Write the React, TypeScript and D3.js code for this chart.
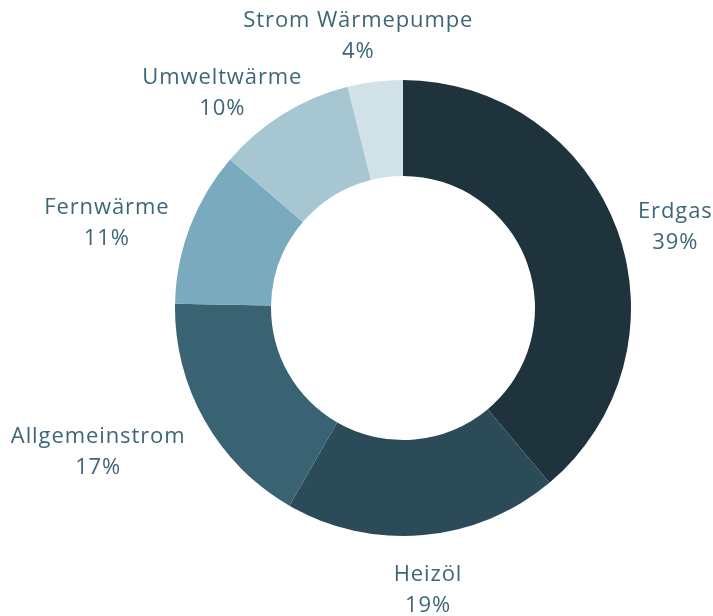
import React from 'react';
import * as d3 from 'd3';

const categories = ['Erdgas', 'Heizöl', 'Allgemeinstrom', 'Fernwärme', 'Umweltwärme', 'Strom Wärmepumpe'];
const shares = [38.9, 19.4, 17.0, 11.0, 9.8, 3.9];
const percentLabels = ['39%', '19%', '17%', '11%', '10%', '4%'];
const colors = ['#1f333d', '#2c4b59', '#396373', '#79aabd', '#a6c6d2', '#d0e1e8'];

const width = 713;
const height = 616;
const fontSize = 22;
const letterSpacing = 0.9;
const lineHeight = 31;
const fontFamily = '"Open Sans", "Noto Sans", sans-serif';
const textColor = '#3d6677';

function measure(text: string) {
    const ctx = document.createElement('canvas').getContext('2d');
    if (!ctx) return text.length * fontSize * 0.6;
    ctx.font = `${fontSize}px ${fontFamily}`;
    return ctx.measureText(text).width + text.length * letterSpacing;
}

export default function App() {
    const cx = 403;
    const cy = 308;
    const outer = 228;
    const inner = 132;
    const labelR = 250;

    const pie = d3.pie<number>().sort(null).value((d) => d);
    const arcs = pie(shares);
    const arc = d3.arc<d3.PieArcDatum<number>>().innerRadius(inner).outerRadius(outer);

    // place label boxes just outside the ring
    const boxes = arcs.map((a, i) => {
        const mid = (a.startAngle + a.endAngle) / 2;
        const s = Math.sin(mid), c = Math.cos(mid);
        const w = Math.max(measure(categories[i]), measure(percentLabels[i]));
        const h = lineHeight * 2 - 5;
        const m = Math.max(Math.abs(s), Math.abs(c));
        const px = labelR * s, py = -labelR * c;
        // side labels in the upper half sit centred on the anchor
        const dy = (Math.abs(c) >= Math.abs(s) || c < 0) ? -(c * h / 2) / m : 0;
        return { i, w, h, x: px + (s * w / 2) / m, y: py + dy };
    });

    // simple overlap removal: push lower boxes down, top to bottom
    const sorted = [...boxes].sort((a, b) => a.y - b.y);
    for (let k = 0; k < sorted.length; k++) {
        for (let j = 0; j < k; j++) {
            const a = sorted[j], b = sorted[k];
            const xOverlap = Math.abs(a.x - b.x) < (a.w + b.w) / 2;
            const yOverlap = b.y - a.y < (a.h + b.h) / 2;
            if (xOverlap && yOverlap) b.y = a.y + (a.h + b.h) / 2;
        }
    }

    return (
        <svg width={width} height={height} style={{ position: 'fixed', left: 0, top: 0 }}>
            <g transform={`translate(${cx},${cy})`}>
                {arcs.map((a, i) => (
                    <path key={i} d={arc(a) || ''} fill={colors[i]} />
                ))}
                {boxes.map((b) => (
                    <text key={b.i} x={b.x} y={b.y} textAnchor="middle" fill={textColor}
                        fontFamily={fontFamily} fontSize={fontSize} letterSpacing={letterSpacing}>
                        <tspan x={b.x} dy={-lineHeight / 2 + fontSize * 0.35 + 3}>{categories[b.i]}</tspan>
                        <tspan x={b.x} dy={lineHeight}>{percentLabels[b.i]}</tspan>
                    </text>
                ))}
            </g>
        </svg>
    );
}
